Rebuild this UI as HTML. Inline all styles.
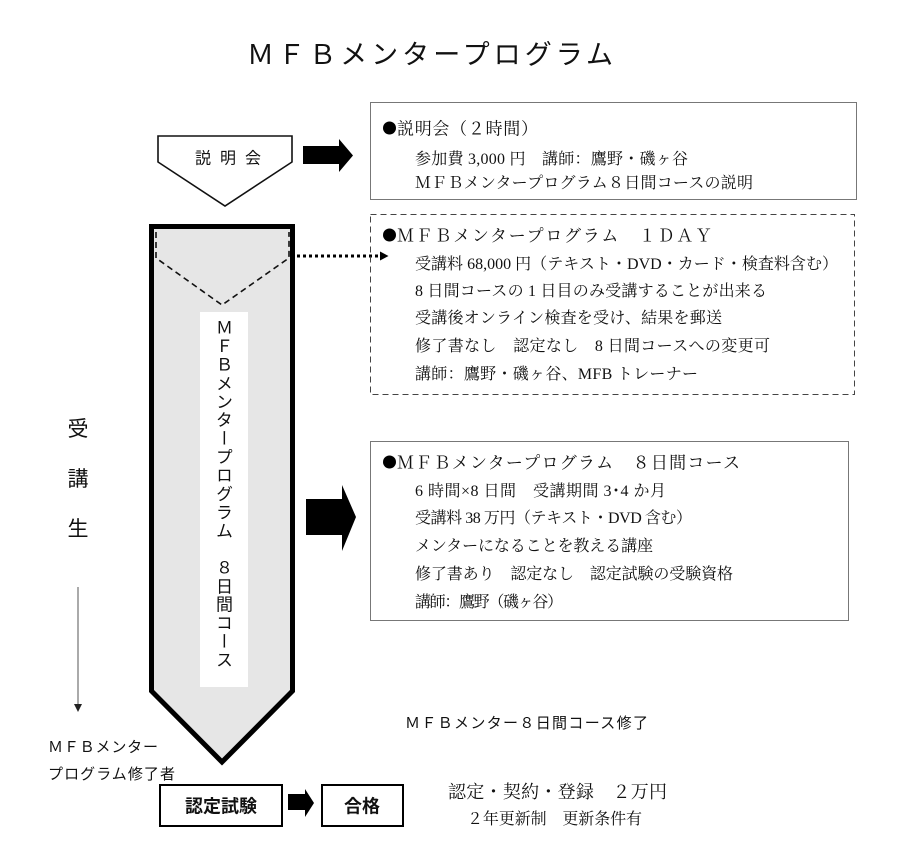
<!DOCTYPE html>
<html><head><meta charset="utf-8">
<style>
html,body{margin:0;padding:0;background:#fff;}
#wrap{position:relative;width:900px;height:851px;overflow:hidden;background:#fff;}
svg{position:absolute;left:0;top:0;}
.serif{font-family:"Liberation Serif","Noto Serif CJK SC",serif;fill:#111;}
.sans{font-family:"Liberation Sans","Noto Sans CJK JP",sans-serif;fill:#111;}
#vt{position:absolute;left:214px;top:319px;writing-mode:vertical-rl;text-orientation:upright;font-family:"Liberation Sans","Noto Sans CJK JP",sans-serif;font-size:17px;line-height:17px;letter-spacing:1.45px;color:#111;white-space:nowrap;}
</style></head>
<body><div id="wrap">
<svg width="900" height="851" viewBox="0 0 900 851" xmlns="http://www.w3.org/2000/svg">
<!-- title -->
<text class="sans" x="247" y="64" font-size="27" textLength="366" lengthAdjust="spacing">ＭＦＢメンタープログラム</text>

<!-- 説明会 pentagon -->
<polygon points="158,136 292,136 292,162 225,206 158,162" fill="#fff" stroke="#111" stroke-width="1.6"/>
<text class="sans" x="195" y="163.5" font-size="16" textLength="66" lengthAdjust="spacing">説明会</text>

<!-- top arrow -->
<polygon points="303,146 339,146 339,139 353,155.5 339,172 339,164 303,164" fill="#000"/>

<!-- box1 -->
<rect x="370.5" y="102.5" width="486" height="97" fill="#fff" stroke="#777" stroke-width="1"/>
<circle cx="389.5" cy="128" r="6.5" fill="#000"/>
<text class="serif" x="397" y="134.5" font-size="17" textLength="141" lengthAdjust="spacing">説明会（２時間）</text>
<text class="serif" x="415" y="164" font-size="16" textLength="273" lengthAdjust="spacing">参加費 3,000 円　講師：鷹野・磯ヶ谷</text>
<text class="serif" x="415" y="188" font-size="16" textLength="338" lengthAdjust="spacing">ＭＦＢメンタープログラム８日間コースの説明</text>

<!-- big pentagon -->
<polygon points="151.5,226.5 292.5,226.5 292.5,691 222,762 151.5,691" fill="#e6e6e6" stroke="#000" stroke-width="5" stroke-linejoin="miter"/>
<polyline points="156,232 156,258 222,305 289,258 289,232" fill="none" stroke="#111" stroke-width="1.6" stroke-dasharray="6,4"/>
<rect x="200" y="312" width="48" height="375" fill="#fff"/>

<!-- dotted arrow -->
<line x1="297" y1="256" x2="380" y2="256" stroke="#000" stroke-width="3" stroke-dasharray="3,3"/>
<polygon points="380,251.5 388.5,256 380,260.5" fill="#000"/>

<!-- box2 dashed -->
<rect x="370.5" y="214.5" width="484" height="180" fill="none" stroke="#444" stroke-width="1" stroke-dasharray="6,4"/>
<circle cx="389.5" cy="235" r="6.5" fill="#000"/>
<text class="serif" x="397" y="241.5" font-size="17" textLength="315" lengthAdjust="spacing">ＭＦＢメンタープログラム　１ＤＡＹ</text>
<text class="serif" x="415" y="269" font-size="16" textLength="423" lengthAdjust="spacing">受講料 68,000 円（テキスト・DVD・カード・検査料含む）</text>
<text class="serif" x="415" y="296" font-size="16" textLength="352" lengthAdjust="spacing">8 日間コースの 1 日目のみ受講することが出来る</text>
<text class="serif" x="415" y="323" font-size="16" textLength="307" lengthAdjust="spacing">受講後オンライン検査を受け、結果を郵送</text>
<text class="serif" x="415" y="351" font-size="16" textLength="355" lengthAdjust="spacing">修了書なし　認定なし　8 日間コースへの変更可</text>
<text class="serif" x="415" y="379" font-size="16" textLength="283" lengthAdjust="spacing">講師：鷹野・磯ヶ谷、MFB トレーナー</text>

<!-- middle arrow -->
<polygon points="306,499 342,499 342,485 356,517 342,551 342,535 306,535" fill="#000"/>

<!-- box3 -->
<rect x="370.5" y="441.5" width="478" height="179" fill="#fff" stroke="#777" stroke-width="1"/>
<circle cx="389.5" cy="462" r="6.5" fill="#000"/>
<text class="serif" x="397" y="468.5" font-size="17" textLength="343" lengthAdjust="spacing">ＭＦＢメンタープログラム　８日間コース</text>
<text class="serif" x="415" y="496" font-size="16" textLength="251" lengthAdjust="spacing">6 時間×8 日間　受講期間 3･4 か月</text>
<text class="serif" x="415" y="523" font-size="16" textLength="277" lengthAdjust="spacing">受講料 38 万円（テキスト・DVD 含む）</text>
<text class="serif" x="415" y="551" font-size="16" textLength="238" lengthAdjust="spacing">メンターになることを教える講座</text>
<text class="serif" x="415" y="579" font-size="16" textLength="318" lengthAdjust="spacing">修了書あり　認定なし　認定試験の受験資格</text>
<text class="serif" x="415" y="607" font-size="16" textLength="148" lengthAdjust="spacing">講師：鷹野（磯ヶ谷）</text>

<!-- left 受講生 -->
<text class="sans" x="78" y="436" font-size="21" text-anchor="middle">受</text>
<text class="sans" x="78" y="486" font-size="21" text-anchor="middle">講</text>
<text class="sans" x="78" y="536" font-size="21" text-anchor="middle">生</text>
<line x1="78" y1="587" x2="78" y2="705" stroke="#555" stroke-width="1"/>
<polygon points="74,704 82,704 78,712" fill="#222"/>

<text class="sans" x="48" y="752" font-size="15" textLength="110" lengthAdjust="spacing">ＭＦＢメンター</text>
<text class="sans" x="48" y="779" font-size="15" textLength="127" lengthAdjust="spacing">プログラム修了者</text>

<text class="sans" x="405" y="728" font-size="15" textLength="243" lengthAdjust="spacing">ＭＦＢメンター８日間コース修了</text>

<!-- bottom boxes -->
<rect x="160" y="785" width="122" height="41" fill="#fff" stroke="#000" stroke-width="2"/>
<text class="sans" x="221" y="812.5" font-size="18" font-weight="bold" text-anchor="middle">認定試験</text>
<polygon points="288,794 305,794 305,789 314,803 305,817 305,810 288,810" fill="#000"/>
<rect x="322" y="785" width="81" height="41" fill="#fff" stroke="#000" stroke-width="2"/>
<text class="sans" x="362" y="812.5" font-size="18" font-weight="bold" text-anchor="middle">合格</text>

<text class="serif" x="448" y="798" font-size="18" textLength="219" lengthAdjust="spacing">認定・契約・登録　２万円</text>
<text class="serif" x="467" y="824" font-size="16" textLength="175" lengthAdjust="spacing">２年更新制　更新条件有</text>
</svg>
<div id="vt">ＭＦＢメンタープログラム　８日間コース</div>
</div></body></html>
